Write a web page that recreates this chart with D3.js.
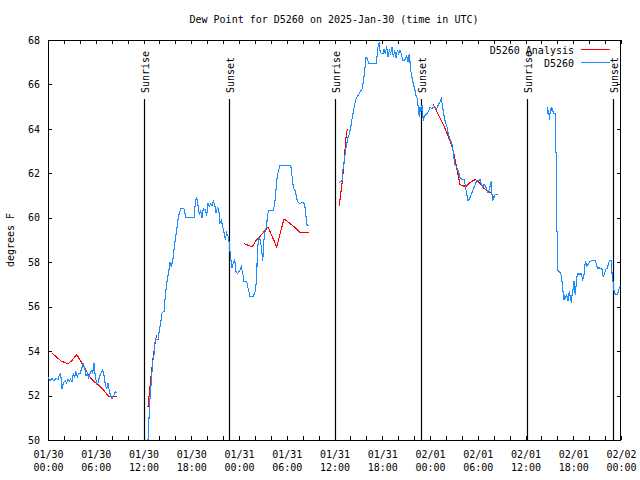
<!DOCTYPE html>
<html><head><meta charset="utf-8">
<script src="https://cdn.jsdelivr.net/npm/d3@7"></script>
<style>
body{margin:0;background:#fff;}
svg{display:block;}
text{font-family:"DejaVu Sans Mono",monospace;font-size:10px;fill:#000;}
</style></head><body>
<svg id="c" width="640" height="480"></svg>
<script>
// ---- data (hours after 2025-01-30 00:00 UTC, dew point °F) ----
const titleText = "Dew Point for D5260 on 2025-Jan-30 (time in UTC)";
const yLabel = "degrees F";
const xTickDates = ["01/30","01/30","01/30","01/30","01/31","01/31","01/31","01/31","02/01","02/01","02/01","02/01","02/02"];
const xTickTimes = ["00:00","06:00","12:00","18:00","00:00","06:00","12:00","18:00","00:00","06:00","12:00","18:00","00:00"];
const yTicks = [50,52,54,56,58,60,62,64,66,68];
const sunEvents = [["Sunrise",12.12],["Sunset",22.8],["Sunrise",36.08],["Sunset",46.87],["Sunrise",60.23],["Sunset",71.04]];
const seriesNames = ["D5260 Analysis","D5260"];

const obs1 = [[0,52.81],[0.25,52.67],[0.5,52.77],[0.75,52.65],[1.0,52.77],[1.26,52.71],[1.42,52.92],[1.59,53.0],[1.76,52.3],[1.93,52.58],
[2.18,52.65],[2.35,52.56],[2.51,52.74],[2.68,52.65],[2.85,52.74],[3.02,52.62],[3.18,53.0],[3.35,52.83],[3.52,53.07],[3.69,52.85],
[3.85,53.0],[4.02,53.0],[4.27,53.25],[4.44,53.43],[4.61,53.25],[4.77,52.89],[4.94,53.0],[5.11,52.8],[5.28,53.0],[5.44,53.13],
[5.61,53.0],[5.78,53.46],[5.95,52.86],[6.12,52.53],[6.28,52.56],[6.45,52.83],[6.70,53.04],[6.87,53.16],[7.04,52.89],[7.20,52.5],
[7.37,52.29],[7.54,52.56],[7.71,52.2],[7.87,51.98],[8.04,51.86],[8.21,51.95],[8.46,52.17],[8.71,52.13]];
const obs2 = [[12.57,50.0],[12.65,50.68],[12.82,51.88],[12.98,52.63],[13.16,53.53],[13.32,53.83],[13.48,54.51],[13.82,54.51],[13.99,54.96],
[14.16,55.26],[14.32,55.71],[14.58,55.79],[14.74,56.47],[14.92,57.07],[15.17,57.59],[15.33,58.0],[15.49,57.82],[15.67,58.04],[15.83,58.57],
[16.0,59.02],[16.17,59.47],[16.34,59.92],[16.50,60.22],[16.67,60.4],[17.09,60.4],[17.34,60.0],[18.35,60.0],[18.51,60.67],[18.68,60.94],
[18.85,60.55],[19.01,60.15],[19.19,60.34],[19.35,60.0],[19.51,60.4],[19.77,60.37],[19.94,60.1],[20.11,60.67],[20.27,60.52],[20.44,60.64],
[20.61,60.55],[20.77,60.75],[20.94,60.6],[21.11,60.22],[21.28,60.45],[21.45,60.37],[21.61,59.77],[21.78,59.89],[21.95,59.62],[22.12,59.32],
[22.28,59.02],[22.45,59.32],[22.62,59.17],[22.78,58.87],[22.87,58.49],[22.95,58.2],[23.12,57.75],[23.29,57.97],[23.46,58.12],[23.62,57.59],
[23.79,57.49],[24.04,57.59],[24.29,57.79],[24.46,57.52],[24.63,57.14],[24.97,57.14],[25.13,56.84],[25.38,56.47],[25.80,56.47],[26.05,56.69],
[26.23,57.3],[26.30,58.49],[26.48,59.09],[26.64,59.02],[26.80,58.72],[26.98,58.04],[27.14,59.02],[27.31,59.47],[27.48,59.62],[27.55,60.07],
[27.72,60.34],[28.31,60.34],[28.48,60.6],[28.65,61.28],[28.81,61.88],[29.15,62.36],[30.50,62.36],[30.66,61.88],[30.83,61.35],[31.08,61.2],
[31.33,60.75],[31.58,60.64],[32.08,60.7],[32.26,60.6],[32.42,60.07],[32.51,59.7],[32.76,59.65]];
const obs3 = [[36.60,61.59],[36.94,61.66],[37.03,62.12],[37.19,62.42],[37.36,62.94],[37.53,63.32],[37.70,63.62],[37.86,63.77],[38.04,64.07],
[38.20,64.45],[38.36,64.75],[38.54,65.12],[38.70,65.35],[38.95,65.5],[39.20,65.65],[39.46,65.8],[39.62,66.1],[39.80,66.62],[39.96,67.22],
[40.12,67.15],[40.30,66.95],[41.30,66.95],[41.38,67.53],[41.55,67.83],[41.63,67.9],[41.72,67.53],[41.88,67.38],[42.13,67.38],[42.22,67.6],
[42.39,67.38],[42.56,67.71],[42.72,67.23],[42.89,67.53],[43.06,67.38],[43.23,67.68],[43.39,67.23],[43.57,67.53],[43.73,67.2],[43.89,67.53],
[44.07,67.38],[44.23,67.53],[44.40,67.38],[44.57,67.08],[44.73,67.08],[44.90,67.15],[45.07,67.3],[45.24,67.0],[45.40,67.38],[45.58,66.62],
[45.74,66.32],[45.90,66.02],[46.08,65.8],[46.24,65.5],[46.41,65.35],[46.50,65.05],[46.58,64.75],[46.66,64.52],[46.74,64.97],[46.83,64.75],
[47.00,65.05],[47.16,64.37],[47.34,64.6],[47.59,64.67],[47.84,64.82],[48.00,64.97],[48.25,64.9],[48.42,64.97],[48.67,64.97],[48.84,64.9],
[49.09,65.12],[49.26,65.2],[49.42,65.35],[49.60,64.97],[49.76,64.6],[49.93,64.3],[50.10,64.15],[50.26,63.85],[50.43,63.62],[50.60,63.47],
[50.76,63.32],[50.93,62.94],[51.11,62.42],[51.27,62.34],[51.44,62.19],[51.61,62.04],[51.77,61.82],[51.94,61.74],[52.28,61.74],[52.44,61.44],
[52.61,61.06],[52.78,60.76],[52.94,60.84],[53.19,61.06],[53.44,61.29],[53.70,61.52],[53.87,61.67],[54.12,61.67],[54.28,61.74],[54.45,61.52],
[54.62,61.37],[54.79,61.52],[54.95,61.44],[55.12,61.29],[55.29,61.14],[55.45,61.29],[55.62,61.52],[55.70,61.67],[55.79,61.06],[55.88,60.76],
[56.05,60.91],[56.21,61.06],[56.55,61.06]];
const obs4 = [[62.74,64.99],[62.83,64.66],[62.92,64.84],[63.00,64.39],[63.08,64.69],[63.25,64.99],[63.34,64.81],[63.42,64.88],[63.50,64.69],
[63.75,64.69],[63.78,62.93],[63.92,62.93],[63.94,59.4],[64.01,59.4],[64.02,57.67],[64.18,57.59],[64.35,57.52],[64.51,57.37],[64.59,57.14],
[64.76,56.54],[64.85,56.31],[64.93,56.54],[65.01,56.39],[65.18,56.54],[65.35,56.24],[65.51,56.69],[65.69,56.31],[65.76,56.17],[65.85,56.54],
[66.01,56.84],[66.10,57.14],[66.18,56.69],[66.26,56.54],[66.43,57.22],[66.51,57.47],[67.01,57.47],[67.19,57.22],[67.35,57.44],[67.52,58.04],
[67.69,57.82],[67.86,57.89],[68.11,58.04],[68.36,58.07],[68.78,58.07],[69.03,57.74],[69.37,57.74],[69.62,57.67],[69.78,57.32],[69.96,57.52],
[70.12,57.71],[70.29,57.74],[70.54,58.07],[70.79,58.07],[70.88,57.44],[70.96,57.29],[71.05,56.92],[71.14,56.69],[71.30,56.54],[71.55,56.54],
[71.72,56.77],[71.89,56.92]];

const ana1 = [[0.5,53.91],[1.09,53.73],[1.67,53.55],[2.51,53.43],[3.02,53.58],[3.61,53.85],[4.11,53.55],[4.61,53.25],[5.11,52.92],[5.61,52.68],
[6.28,52.5],[6.87,52.29],[7.37,52.07],[7.70,51.95],[8.13,51.95],[8.63,51.95]];
const ana2 = [[12.57,51.5],[12.73,52.1],[12.98,53.0],[13.23,53.76],[13.48,54.43],[13.66,54.74]];
const ana3 = [[24.63,58.84],[25.22,58.75],[25.63,58.69],[26.23,59.02],[26.73,59.2],[27.31,59.44],[27.65,59.59],[28.15,59.17],[28.74,58.69],
[29.24,59.39],[29.66,59.95],[30.32,59.77],[31.08,59.55],[31.75,59.32],[32.26,59.35],[32.76,59.35]];
const ana4 = [[36.60,60.54],[36.78,61.06],[36.94,61.52],[37.11,62.12],[37.28,62.87],[37.45,63.62],[37.61,64.0]];
const ana5 = [[48.42,65.1],[48.84,64.78],[49.26,64.5],[49.67,64.2],[50.10,63.83],[50.51,63.45],[50.93,63.0],[51.27,62.4],[51.52,61.95],
[51.77,61.5],[52.19,61.43],[52.61,61.43],[53.03,61.58],[53.70,61.73],[54.20,61.58],[54.70,61.35],[55.12,61.23],[55.62,61.13],[55.95,60.95]];

// ---- drawing ----
const L = 48, R = 621, T = 40, B = 440;
const svg = d3.select("#c");
const x = d3.scaleLinear().domain([0,72]).range([L,R]);
const y = d3.scaleLinear().domain([50,68]).range([B,T]);
const RED = "#ff0000", BLUE = "#1a8cff";

svg.append("defs").append("clipPath").attr("id","clip")
  .append("rect").attr("x",L).attr("y",T).attr("width",R-L).attr("height",B-T);

// title
svg.append("text").attr("x",334).attr("y",23).attr("text-anchor","middle").text(titleText);
// y label
svg.append("text").attr("transform","translate(14,"+((T+B)/2)+") rotate(-90)")
  .attr("text-anchor","middle").text(yLabel);

const major = d3.range(0,73,6), minor = d3.range(0,73,2);
// bottom axis with two-line labels
svg.append("g").attr("transform","translate(0,"+B+")")
  .call(d3.axisBottom(x).tickValues(minor).tickSize(-4).tickFormat(""));
const gBL = svg.append("g").attr("transform","translate(0,"+B+")")
  .call(d3.axisBottom(x).tickValues(major).tickSize(0).tickFormat(""));
gBL.selectAll(".tick").each(function(d,i){
  const t = d3.select(this).append("text").attr("text-anchor","middle").attr("fill","#000");
  t.append("tspan").attr("x",0).attr("y",18).text(xTickDates[i]);
  t.append("tspan").attr("x",0).attr("y",31).text(xTickTimes[i]);
});
svg.append("g").attr("transform","translate(0,"+T+")")
  .call(d3.axisTop(x).tickValues(minor).tickSize(-4).tickFormat(""));
svg.append("g").attr("transform","translate("+L+",0)")
  .call(d3.axisLeft(y).tickValues(yTicks).tickSize(-4).tickPadding(8).tickFormat(d3.format("d")));
svg.append("g").attr("transform","translate("+R+",0)")
  .call(d3.axisRight(y).tickValues(yTicks).tickSize(-4).tickFormat(""));
svg.selectAll(".domain").remove();
svg.selectAll(".tick line").attr("stroke","#000").attr("shape-rendering","crispEdges");
svg.selectAll(".tick text").attr("font-family","DejaVu Sans Mono").attr("font-size",10).attr("fill","#000");

// frame
svg.append("rect").attr("x",L+0.5).attr("y",T+0.5).attr("width",R-L-1).attr("height",B-T)
  .attr("fill","none").attr("stroke","#000").attr("shape-rendering","crispEdges");

// sunrise/sunset lines
const sg = svg.append("g");
sunEvents.forEach(([name,h])=>{
  const xp = Math.round(x(h))+0.5;
  sg.append("line").attr("x1",xp).attr("x2",xp).attr("y1",99).attr("y2",B)
    .attr("stroke","#000").attr("stroke-width",1.2);
  sg.append("text").attr("transform","translate("+(xp+4)+",93) rotate(-90)").text(name);
});

// series
const line = d3.line().x(d=>x(d[0])).y(d=>y(d[1]));
const plot = svg.append("g").attr("clip-path","url(#clip)");
[ana1,ana2,ana3,ana4,ana5].forEach(s=>plot.append("path").attr("d",line(s))
  .attr("fill","none").attr("stroke",RED).attr("stroke-width",1.1).attr("shape-rendering","crispEdges"));
[obs1,obs2,obs3,obs4].forEach(s=>plot.append("path").attr("d",line(s))
  .attr("fill","none").attr("stroke",BLUE).attr("stroke-width",1.1).attr("shape-rendering","crispEdges"));

// legend
const lg = svg.append("g");
[[seriesNames[0],RED],[seriesNames[1],BLUE]].forEach(([n,c],i)=>{
  const yy = 50 + i*13;
  lg.append("text").attr("x",574).attr("y",yy+3.5).attr("text-anchor","end").text(n);
  lg.append("line").attr("x1",581).attr("x2",610).attr("y1",yy-0.5).attr("y2",yy-0.5).attr("stroke",c);
});
</script>
</body></html>
